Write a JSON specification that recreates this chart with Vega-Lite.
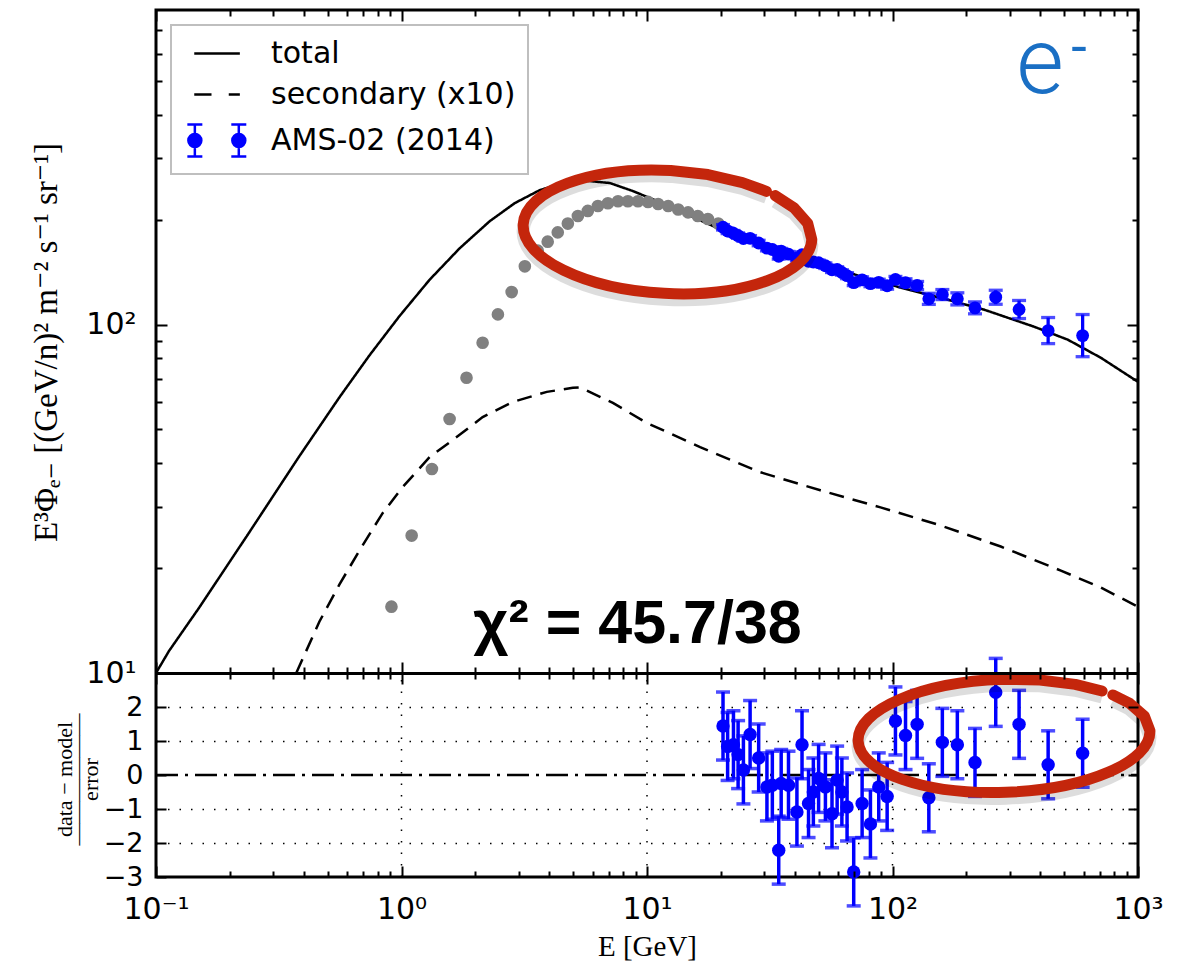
{
  "$schema": "https://vega.github.io/schema/vega-lite/v6.json",
  "autosize": {"type": "none"},
  "width": 982,
  "height": 867,
  "padding": {"left": 156, "top": 10, "right": 52, "bottom": 95},
  "background": "white",
  "config": {
    "view": {"stroke": "black", "strokeWidth": 3},
    "axis": {"labelColor": "black", "labelFont": "DejaVu Sans", "titleColor": "black", "tickColor": "black", "domainColor": "black"}
  },
  "datasets": {
    "curves": [
      {"series": "total", "E": 0.1, "flux": 10},
      {"series": "total", "E": 0.113, "flux": 11.57},
      {"series": "total", "E": 0.1498, "flux": 15.39},
      {"series": "total", "E": 0.2397, "flux": 25.32},
      {"series": "total", "E": 0.3835, "flux": 41.9},
      {"series": "total", "E": 0.5582, "flux": 61.8},
      {"series": "total", "E": 0.7403, "flux": 81.6},
      {"series": "total", "E": 0.9813, "flux": 105.8},
      {"series": "total", "E": 1.3013, "flux": 134.5},
      {"series": "total", "E": 1.725, "flux": 165.6},
      {"series": "total", "E": 2.2874, "flux": 198.1},
      {"series": "total", "E": 2.892, "flux": 223.2},
      {"series": "total", "E": 3.659, "flux": 243.3},
      {"series": "total", "E": 4.415, "flux": 253.2},
      {"series": "total", "E": 5.582, "flux": 259.1},
      {"series": "total", "E": 7.063, "flux": 254.9},
      {"series": "total", "E": 8.767, "flux": 241.7},
      {"series": "total", "E": 12.07, "flux": 220.3},
      {"series": "total", "E": 16.46, "flux": 199.4},
      {"series": "total", "E": 22.44, "flux": 180.5},
      {"series": "total", "E": 30.9, "flux": 165.6},
      {"series": "total", "E": 42.12, "flux": 156.0},
      {"series": "total", "E": 57.44, "flux": 146.0},
      {"series": "total", "E": 78.32, "flux": 135.7},
      {"series": "total", "E": 107.8, "flux": 127.8},
      {"series": "total", "E": 172.5, "flux": 117.3},
      {"series": "total", "E": 235.2, "flux": 110.5},
      {"series": "total", "E": 376.3, "flux": 98.7},
      {"series": "total", "E": 518.0, "flux": 90.5},
      {"series": "total", "E": 706.3, "flux": 80.3},
      {"series": "total", "E": 1000, "flux": 68.5},
      {"series": "secondary (x10)", "E": 0.3727, "flux": 10},
      {"series": "secondary (x10)", "E": 0.4627, "flux": 14.03},
      {"series": "secondary (x10)", "E": 0.5582, "flux": 17.93},
      {"series": "secondary (x10)", "E": 0.674, "flux": 22.47},
      {"series": "secondary (x10)", "E": 0.8364, "flux": 28.72},
      {"series": "secondary (x10)", "E": 1.0094, "flux": 34.13},
      {"series": "secondary (x10)", "E": 1.3013, "flux": 41.65},
      {"series": "secondary (x10)", "E": 1.677, "flux": 47.55},
      {"series": "secondary (x10)", "E": 2.141, "flux": 54.3},
      {"series": "secondary (x10)", "E": 2.838, "flux": 59.99},
      {"series": "secondary (x10)", "E": 3.907, "flux": 64.11},
      {"series": "secondary (x10)", "E": 4.989, "flux": 65.84},
      {"series": "secondary (x10)", "E": 5.327, "flux": 66.06},
      {"series": "secondary (x10)", "E": 7.263, "flux": 59.6},
      {"series": "secondary (x10)", "E": 10, "flux": 52.2},
      {"series": "secondary (x10)", "E": 16.46, "flux": 44.5},
      {"series": "secondary (x10)", "E": 28.92, "flux": 37.71},
      {"series": "secondary (x10)", "E": 50.83, "flux": 33.45},
      {"series": "secondary (x10)", "E": 89.35, "flux": 29.89},
      {"series": "secondary (x10)", "E": 157.0, "flux": 26.52},
      {"series": "secondary (x10)", "E": 276.0, "flux": 23.07},
      {"series": "secondary (x10)", "E": 485.1, "flux": 19.68},
      {"series": "secondary (x10)", "E": 706.3, "flux": 17.58},
      {"series": "secondary (x10)", "E": 1000, "flux": 15.5}
    ],
    "gray": [
      {"E": 0.91, "flux": 15.5}, {"E": 1.1, "flux": 24.8}, {"E": 1.33, "flux": 38.5},
      {"E": 1.57, "flux": 53.6}, {"E": 1.84, "flux": 70.4}, {"E": 2.14, "flux": 88.7},
      {"E": 2.47, "flux": 107}, {"E": 2.81, "flux": 124}, {"E": 3.18, "flux": 147},
      {"E": 3.59, "flux": 163}, {"E": 3.94, "flux": 173}, {"E": 4.33, "flux": 184},
      {"E": 4.76, "flux": 195}, {"E": 5.23, "flux": 205}, {"E": 5.74, "flux": 212},
      {"E": 6.31, "flux": 219}, {"E": 6.93, "flux": 223}, {"E": 7.62, "flux": 226},
      {"E": 8.36, "flux": 226}, {"E": 9.19, "flux": 226}, {"E": 10.1, "flux": 225},
      {"E": 11.1, "flux": 222}, {"E": 12.2, "flux": 219}, {"E": 13.4, "flux": 214},
      {"E": 14.7, "flux": 210}, {"E": 16.1, "flux": 205}, {"E": 17.7, "flux": 201},
      {"E": 19.5, "flux": 195}
    ],
    "ams": [
      {"E": 20.4, "flux": 190.3, "lo": 186.9, "hi": 193.7},
      {"E": 21.3, "flux": 185.8, "lo": 182.5, "hi": 189.1},
      {"E": 22.5, "flux": 183.0, "lo": 179.7, "hi": 186.3},
      {"E": 23.5, "flux": 180.1, "lo": 176.9, "hi": 183.3},
      {"E": 24.7, "flux": 176.6, "lo": 173.4, "hi": 179.8},
      {"E": 26.3, "flux": 176.9, "lo": 173.7, "hi": 180.1},
      {"E": 28.5, "flux": 171.5, "lo": 168.4, "hi": 174.6},
      {"E": 30.8, "flux": 165.8, "lo": 162.8, "hi": 168.8},
      {"E": 32.4, "flux": 164.3, "lo": 161.3, "hi": 167.3},
      {"E": 34.4, "flux": 157.1, "lo": 154.2, "hi": 160.0},
      {"E": 35.2, "flux": 162.5, "lo": 159.6, "hi": 165.4},
      {"E": 37.7, "flux": 159.3, "lo": 156.4, "hi": 162.2},
      {"E": 40.8, "flux": 155.1, "lo": 152.3, "hi": 157.9},
      {"E": 42.8, "flux": 158.7, "lo": 155.8, "hi": 161.6},
      {"E": 45.5, "flux": 152.0, "lo": 149.3, "hi": 154.7},
      {"E": 47.6, "flux": 151.3, "lo": 148.6, "hi": 154.0},
      {"E": 50.0, "flux": 150.5, "lo": 147.8, "hi": 153.2},
      {"E": 53.3, "flux": 147.6, "lo": 144.9, "hi": 150.3},
      {"E": 56.7, "flux": 143.7, "lo": 141.1, "hi": 146.3},
      {"E": 59.5, "flux": 144.0, "lo": 141.4, "hi": 146.6},
      {"E": 62.2, "flux": 141.2, "lo": 138.7, "hi": 143.7},
      {"E": 65.3, "flux": 138.2, "lo": 135.5, "hi": 140.9},
      {"E": 69.5, "flux": 132.0, "lo": 129.4, "hi": 134.6},
      {"E": 75.2, "flux": 134.4, "lo": 131.7, "hi": 137.1},
      {"E": 81.3, "flux": 131.1, "lo": 128.5, "hi": 133.7},
      {"E": 87.9, "flux": 132.2, "lo": 129.4, "hi": 135.0},
      {"E": 95.1, "flux": 129.3, "lo": 126.4, "hi": 132.2},
      {"E": 102.8, "flux": 134.8, "lo": 132.2, "hi": 137.5},
      {"E": 113, "flux": 131.9, "lo": 128.5, "hi": 135.4},
      {"E": 126, "flux": 129.5, "lo": 126.1, "hi": 133.0},
      {"E": 140.6, "flux": 118.6, "lo": 114.3, "hi": 123.0},
      {"E": 159.6, "flux": 122.0, "lo": 118.0, "hi": 126.1},
      {"E": 183.7, "flux": 118.6, "lo": 113.9, "hi": 123.4},
      {"E": 216.8, "flux": 111.7, "lo": 107.4, "hi": 116.2},
      {"E": 263.3, "flux": 119.9, "lo": 114.4, "hi": 125.5},
      {"E": 327.8, "flux": 110.5, "lo": 104.1, "hi": 117.3},
      {"E": 430.5, "flux": 96.1, "lo": 88.2, "hi": 104.8},
      {"E": 594.9, "flux": 93.0, "lo": 80.9, "hi": 106.9}
    ],
    "resid": [
      {"E": 20.4, "r": 1.44, "err": 1}, {"E": 21.3, "r": 0.84, "err": 1},
      {"E": 22.5, "r": 0.89, "err": 1}, {"E": 23.5, "r": 0.6, "err": 1},
      {"E": 24.7, "r": 0.15, "err": 1}, {"E": 26.3, "r": 1.19, "err": 1},
      {"E": 28.5, "r": 0.5, "err": 1}, {"E": 30.8, "r": -0.35, "err": 1},
      {"E": 32.4, "r": -0.3, "err": 1}, {"E": 34.4, "r": -2.21, "err": 1},
      {"E": 35.2, "r": -0.25, "err": 1}, {"E": 37.7, "r": -0.3, "err": 1},
      {"E": 40.8, "r": -1.09, "err": 1}, {"E": 42.8, "r": 0.89, "err": 1},
      {"E": 45.5, "r": -0.84, "err": 1}, {"E": 47.6, "r": -0.5, "err": 1},
      {"E": 50.0, "r": -0.1, "err": 1}, {"E": 53.3, "r": -0.35, "err": 1},
      {"E": 56.7, "r": -1.14, "err": 1}, {"E": 59.5, "r": -0.15, "err": 1},
      {"E": 62.2, "r": -0.5, "err": 1}, {"E": 65.3, "r": -0.94, "err": 1},
      {"E": 69.5, "r": -2.85, "err": 1}, {"E": 75.2, "r": -0.84, "err": 1},
      {"E": 81.3, "r": -1.44, "err": 1}, {"E": 87.9, "r": -0.35, "err": 1},
      {"E": 95.1, "r": -0.63, "err": 1}, {"E": 102.8, "r": 1.59, "err": 1},
      {"E": 113, "r": 1.16, "err": 1}, {"E": 126, "r": 1.49, "err": 1},
      {"E": 140.6, "r": -0.67, "err": 1}, {"E": 159.6, "r": 0.96, "err": 1},
      {"E": 183.7, "r": 0.89, "err": 1}, {"E": 216.8, "r": 0.37, "err": 1},
      {"E": 263.3, "r": 2.43, "err": 1}, {"E": 327.8, "r": 1.49, "err": 1},
      {"E": 430.5, "r": 0.3, "err": 1}, {"E": 594.9, "r": 0.64, "err": 1}
    ],
    "decades": [{"E": 1}, {"E": 10}, {"E": 100}]
  },
  "resolve": {
    "scale": {"y": "independent"},
    "axis": {"x": "independent", "y": "independent"}
  },
  "layer": [
    {
      "data": {"name": "decades"},
      "mark": {"type": "rule", "color": "black", "strokeWidth": 1.5, "strokeDash": [1.5, 10]},
      "encoding": {
        "x": {"field": "E", "type": "quantitative", "scale": {"type": "log", "domain": [0.1, 1000], "nice": false},
          "axis": {"orient": "top", "offset": -663, "values": [0.1, 1, 10, 100, 1000], "tickSize": -11, "tickWidth": 2, "labels": false, "domain": false, "grid": false, "title": null, "zindex": 1}},
        "y": {"datum": -3, "type": "quantitative", "scale": {"type": "linear", "domain": [-3, 3], "range": [867, 663], "nice": false, "zero": false},
          "axis": {"orient": "right", "values": [-2, -1, 0, 1, 2], "tickSize": -10, "tickWidth": 2, "labels": false, "domain": false, "grid": false, "title": null, "zindex": 1}},
        "y2": {"datum": 3}
      }
    },
    {
      "data": {"values": [{}]},
      "mark": {"type": "rule", "color": "black", "strokeWidth": 2.5, "strokeDash": [22, 7, 3, 7]},
      "encoding": {
        "x": {"datum": 0.1, "type": "quantitative", "scale": {"type": "log", "domain": [0.1, 1000], "nice": false},
          "axis": {"orient": "bottom", "values": [0.2, 0.3, 0.4, 0.5, 0.6, 0.7, 0.8, 0.9, 2, 3, 4, 5, 6, 7, 8, 9, 20, 30, 40, 50, 60, 70, 80, 90, 200, 300, 400, 500, 600, 700, 800, 900], "tickSize": -6, "tickWidth": 2, "labels": false, "domain": false, "grid": false, "title": null, "zindex": 1}},
        "x2": {"datum": 1000},
        "y": {"datum": 0, "type": "quantitative", "scale": {"type": "linear", "domain": [-3, 3], "range": [867, 663], "nice": false, "zero": false},
          "axis": {"orient": "left", "values": [-3, -2, -1, 0, 1, 2], "tickSize": -10, "tickWidth": 2, "labels": false, "domain": false, "grid": false, "title": null, "zindex": 1}}
      }
    },
    {
      "data": {"name": "curves"},
      "mark": {"type": "line", "strokeWidth": 2.5},
      "encoding": {
        "x": {"field": "E", "type": "quantitative", "scale": {"type": "log", "domain": [0.1, 1000], "nice": false},
          "axis": {"orient": "bottom", "values": [0.1, 1, 10, 100, 1000], "ticks": false, "domain": false, "grid": false,
            "labelExpr": "datum.value < 0.5 ? '10⁻¹' : datum.value < 5 ? '10⁰' : datum.value < 50 ? '10¹' : datum.value < 500 ? '10²' : '10³'",
            "labelPadding": 17, "labelFontSize": 30, "labelFlush": false, "labelOverlap": false, "labelBound": false,
            "title": "E [GeV]", "titleFont": "Liberation Serif, DejaVu Serif", "titleFontSize": 29, "titleFontWeight": "normal",
            "titleX": 491, "titleY": 69, "titleAlign": "center", "titleBaseline": "middle"}},
        "y": {"field": "flux", "type": "quantitative", "scale": {"type": "log", "domain": [10, 800], "range": [663, 0], "nice": false},
          "axis": {"orient": "left", "values": [10, 100], "ticks": false, "domain": false, "grid": false,
            "labelExpr": "datum.value < 50 ? '10¹' : '10²'", "labelPadding": 20, "labelFontSize": 30, "labelFlush": false, "labelOverlap": false,
            "title": "E³Φₑ₋  [(GeV/n)² m⁻² s⁻¹ sr⁻¹]", "titleFont": "Liberation Serif, DejaVu Serif", "titleFontSize": 33, "titleFontWeight": "normal",
            "titleX": -110, "titleY": 332, "titleAngle": -90, "titleAlign": "center", "titleBaseline": "middle", "titleLimit": 600}},
        "color": {"field": "series", "type": "nominal",
          "scale": {"domain": ["total", "secondary (x10)", "AMS-02 (2014)"], "range": ["#000000", "#000000", "#0000ff"]},
          "legend": {
            "orient": "none", "legendX": 15, "legendY": 15, "title": null, "padding": 12,
            "fillColor": "white", "strokeColor": "#bfbfbf", "cornerRadius": 0,
            "labelFont": "DejaVu Sans", "labelFontSize": 30, "labelColor": "black", "labelOffset": 55, "labelLimit": 500,
            "symbolSize": 900, "rowPadding": 9,
            "encode": {
              "legend": {"update": {"strokeWidth": {"value": 2}}},
              "symbols": {"update": {
                "shape": {"signal": "datum.value === 'total' ? 'M-0.35,0H2.69' : datum.value === 'secondary (x10)' ? 'M-0.35,0H0.8M1.95,0H2.69' : 'M0.123,0C0.123,0.239 -0.071,0.433 -0.31,0.433C-0.549,0.433 -0.743,0.239 -0.743,0C-0.743,-0.239 -0.549,-0.433 -0.31,-0.433C-0.071,-0.433 0.123,-0.239 0.123,0ZM-0.31,-1.07V1.07M-0.81,-1.07H0.19M-0.81,1.07H0.19M3.053,0C3.053,0.239 2.859,0.433 2.62,0.433C2.381,0.433 2.187,0.239 2.187,0C2.187,-0.239 2.381,-0.433 2.62,-0.433C2.859,-0.433 3.053,-0.239 3.053,0ZM2.62,-1.07V1.07M2.12,-1.07H3.12M2.12,1.07H3.12'"},
                "fill": {"signal": "datum.value === 'AMS-02 (2014)' ? '#0000ff' : 'transparent'"},
                "stroke": {"signal": "datum.value === 'AMS-02 (2014)' ? '#0000ff' : '#000000'"},
                "strokeWidth": {"value": 2.5},
                "opacity": {"value": 1}
              }}
            }
          }},
        "strokeDash": {"field": "series", "type": "nominal", "scale": {"domain": ["total", "secondary (x10)"], "range": [[1, 0], [15, 9]]}, "legend": null}
      }
    },
    {
      "data": {"name": "gray"},
      "mark": {"type": "circle", "size": 160, "color": "#808080", "opacity": 1},
      "encoding": {
        "x": {"field": "E", "type": "quantitative", "scale": {"type": "log", "domain": [0.1, 1000], "nice": false},
          "axis": {"orient": "top", "values": [0.1, 1, 10, 100, 1000], "tickSize": -11, "tickWidth": 2, "labels": false, "domain": false, "grid": false, "title": null, "zindex": 1}},
        "y": {"field": "flux", "type": "quantitative", "scale": {"type": "log", "domain": [10, 800], "range": [663, 0], "nice": false},
          "axis": {"orient": "left", "values": [10, 100], "tickSize": -11, "tickWidth": 2, "labels": false, "domain": false, "grid": false, "title": null, "zindex": 1}}
      }
    },
    {
      "data": {"name": "ams"},
      "mark": {"type": "errorbar", "color": "#0000ff", "thickness": 3.3, "ticks": {"size": 14, "thickness": 3.3}},
      "encoding": {
        "x": {"field": "E", "type": "quantitative", "scale": {"type": "log", "domain": [0.1, 1000], "nice": false}, "axis": null},
        "y": {"field": "lo", "type": "quantitative", "scale": {"type": "log", "domain": [10, 800], "range": [663, 0], "nice": false}, "axis": null},
        "y2": {"field": "hi"}
      }
    },
    {
      "data": {"name": "ams"},
      "mark": {"type": "circle", "size": 165, "color": "#0000ff", "opacity": 1},
      "encoding": {
        "x": {"field": "E", "type": "quantitative", "scale": {"type": "log", "domain": [0.1, 1000], "nice": false},
          "axis": {"orient": "top", "values": [0.2, 0.3, 0.4, 0.5, 0.6, 0.7, 0.8, 0.9, 2, 3, 4, 5, 6, 7, 8, 9, 20, 30, 40, 50, 60, 70, 80, 90, 200, 300, 400, 500, 600, 700, 800, 900], "tickSize": -6, "tickWidth": 2, "labels": false, "domain": false, "grid": false, "title": null, "zindex": 1}},
        "y": {"field": "flux", "type": "quantitative", "scale": {"type": "log", "domain": [10, 800], "range": [663, 0], "nice": false},
          "axis": {"orient": "left", "values": [20, 30, 40, 50, 60, 70, 80, 90, 200, 300, 400, 500, 600, 700], "tickSize": -6, "tickWidth": 2, "labels": false, "domain": false, "grid": false, "title": null, "zindex": 1}}
      }
    },
    {
      "data": {"name": "resid"},
      "mark": {"type": "errorbar", "color": "#0000ff", "thickness": 3.5, "ticks": {"size": 14, "thickness": 3.5}},
      "encoding": {
        "x": {"field": "E", "type": "quantitative", "scale": {"type": "log", "domain": [0.1, 1000], "nice": false}, "axis": null},
        "y": {"field": "r", "type": "quantitative", "scale": {"type": "linear", "domain": [-3, 3], "range": [867, 663], "nice": false, "zero": false}, "axis": null},
        "yError": {"field": "err"}
      }
    },
    {
      "data": {"name": "resid"},
      "mark": {"type": "circle", "size": 180, "color": "#0000ff", "opacity": 1},
      "encoding": {
        "x": {"field": "E", "type": "quantitative", "scale": {"type": "log", "domain": [0.1, 1000], "nice": false},
          "axis": {"orient": "bottom", "values": [0.1, 1, 10, 100, 1000], "tickSize": -11, "tickWidth": 2, "labels": false, "domain": false, "grid": false, "title": null, "zindex": 1}},
        "y": {"field": "r", "type": "quantitative", "scale": {"type": "linear", "domain": [-3, 3], "range": [867, 663], "nice": false, "zero": false},
          "axis": {"orient": "left", "values": [-3, -2, -1, 0, 1, 2], "ticks": false, "domain": false, "grid": false,
            "labelExpr": "datum.value < 0 ? '−' + abs(datum.value) : '' + datum.value", "labelPadding": 13, "labelFontSize": 27, "labelFlush": false, "labelOverlap": false,
            "title": ["data − model", "——————", "error"], "titleFont": "Liberation Serif, DejaVu Serif", "titleFontSize": 22, "titleFontWeight": "normal", "titleLineHeight": 13,
            "titleX": -92, "titleY": 769, "titleAngle": -90, "titleAlign": "center", "titleBaseline": "middle"}}
      }
    },
    {
      "data": {"values": [{}]},
      "mark": {"type": "text", "font": "Liberation Sans, Arial", "fontWeight": "bold", "fontSize": 61, "color": "black", "align": "center", "baseline": "middle"},
      "encoding": {
        "x": {"datum": 9.15, "type": "quantitative", "scale": {"type": "log", "domain": [0.1, 1000], "nice": false}, "axis": null},
        "y": {"datum": 13.75, "type": "quantitative", "scale": {"type": "log", "domain": [10, 800], "range": [663, 0], "nice": false}, "axis": null},
        "text": {"value": "χ² = 45.7/38"}
      }
    },
    {
      "data": {"values": [{}]},
      "mark": {"type": "text", "font": "Roboto, Liberation Sans", "fontWeight": 300, "fontSize": 92, "color": "#1a6fc4", "align": "center", "baseline": "alphabetic"},
      "encoding": {
        "x": {"datum": 398.9, "type": "quantitative", "scale": {"type": "log", "domain": [0.1, 1000], "nice": false}, "axis": null},
        "y": {"datum": 461, "type": "quantitative", "scale": {"type": "log", "domain": [10, 800], "range": [663, 0], "nice": false}, "axis": null},
        "text": {"value": "e"}
      }
    },
    {
      "data": {"values": [{}]},
      "mark": {"type": "text", "font": "Roboto, Liberation Sans", "fontWeight": 400, "fontSize": 56, "color": "#1a6fc4", "align": "center", "baseline": "middle"},
      "encoding": {
        "x": {"datum": 575, "type": "quantitative", "scale": {"type": "log", "domain": [0.1, 1000], "nice": false}, "axis": null},
        "y": {"datum": 620, "type": "quantitative", "scale": {"type": "log", "domain": [10, 800], "range": [663, 0], "nice": false}, "axis": null},
        "text": {"value": "-"}
      }
    },
    {
      "data": {"values": [{}]},
      "mark": {"type": "point", "filled": false, "color": "#000000", "opacity": 0.13, "strokeWidth": 13, "size": 83521, "angle": 3,
        "shape": "M0.7314,-0.2903L0.866,-0.2128L0.9659,-0.1102L1,0C1,0.2351 0.5523,0.4256 0,0.4256C-0.5523,0.4256 -1,0.2351 -1,0C-1,-0.2351 -0.5523,-0.4256 0,-0.4256L0.2588,-0.4111L0.5,-0.3686L0.6691,-0.3163"},
      "encoding": {
        "x": {"datum": 12.12, "type": "quantitative", "scale": {"type": "log", "domain": [0.1, 1000], "nice": false},
          "axis": {"orient": "bottom", "offset": -204, "values": [0.2, 0.3, 0.4, 0.5, 0.6, 0.7, 0.8, 0.9, 2, 3, 4, 5, 6, 7, 8, 9, 20, 30, 40, 50, 60, 70, 80, 90, 200, 300, 400, 500, 600, 700, 800, 900], "tickSize": -6, "tickWidth": 2, "labels": false, "domain": false, "grid": false, "title": null, "zindex": 1}},
        "y": {"datum": 177.5, "type": "quantitative", "scale": {"type": "log", "domain": [10, 800], "range": [663, 0], "nice": false},
          "axis": {"orient": "right", "values": [20, 30, 40, 50, 60, 70, 80, 90, 200, 300, 400, 500, 600, 700], "tickSize": -6, "tickWidth": 2, "labels": false, "domain": false, "grid": false, "title": null, "zindex": 1}}
      }
    },
    {
      "data": {"values": [{}]},
      "mark": {"type": "point", "filled": false, "color": "#c4260c", "opacity": 1, "strokeWidth": 11, "strokeCap": "round", "strokeJoin": "round", "size": 83521, "angle": 3,
        "shape": "M0.7314,-0.2903L0.866,-0.2128L0.9659,-0.1102L1,0C1,0.2351 0.5523,0.4256 0,0.4256C-0.5523,0.4256 -1,0.2351 -1,0C-1,-0.2351 -0.5523,-0.4256 0,-0.4256L0.2588,-0.4111L0.5,-0.3686L0.6691,-0.3163"},
      "encoding": {
        "x": {"datum": 12.12, "type": "quantitative", "scale": {"type": "log", "domain": [0.1, 1000], "nice": false},
          "axis": {"orient": "bottom", "offset": -204, "values": [0.1, 1, 10, 100, 1000], "tickSize": -11, "tickWidth": 2, "labels": false, "domain": true, "domainWidth": 3, "domainColor": "black", "grid": false, "title": null, "zindex": 1}},
        "y": {"datum": 184.5, "type": "quantitative", "scale": {"type": "log", "domain": [10, 800], "range": [663, 0], "nice": false},
          "axis": {"orient": "right", "values": [10, 100], "tickSize": -11, "tickWidth": 2, "labels": false, "domain": false, "grid": false, "title": null, "zindex": 1}}
      }
    },
    {
      "data": {"values": [{}]},
      "mark": {"type": "point", "filled": false, "color": "#000000", "opacity": 0.13, "strokeWidth": 13, "size": 85264, "angle": -2,
        "shape": "M0.7547,-0.2539L0.866,-0.1935L0.9659,-0.1002L1,0C1,0.2137 0.5523,0.387 0,0.387C-0.5523,0.387 -1,0.2137 -1,0C-1,-0.2137 -0.5523,-0.387 0,-0.387L0.2588,-0.3738L0.5,-0.3352L0.682,-0.283"},
      "encoding": {
        "x": {"datum": 284.6, "type": "quantitative", "scale": {"type": "log", "domain": [0.1, 1000], "nice": false}, "axis": null},
        "y": {"datum": 0.98, "type": "quantitative", "scale": {"type": "linear", "domain": [-3, 3], "range": [867, 663], "nice": false, "zero": false}, "axis": null}
      }
    },
    {
      "data": {"values": [{}]},
      "mark": {"type": "point", "filled": false, "color": "#c4260c", "opacity": 1, "strokeWidth": 11, "strokeCap": "round", "strokeJoin": "round", "size": 85264, "angle": -2,
        "shape": "M0.7547,-0.2539L0.866,-0.1935L0.9659,-0.1002L1,0C1,0.2137 0.5523,0.387 0,0.387C-0.5523,0.387 -1,0.2137 -1,0C-1,-0.2137 -0.5523,-0.387 0,-0.387L0.2588,-0.3738L0.5,-0.3352L0.682,-0.283"},
      "encoding": {
        "x": {"datum": 284.6, "type": "quantitative", "scale": {"type": "log", "domain": [0.1, 1000], "nice": false},
          "axis": {"orient": "top", "offset": -663, "values": [0.2, 0.3, 0.4, 0.5, 0.6, 0.7, 0.8, 0.9, 2, 3, 4, 5, 6, 7, 8, 9, 20, 30, 40, 50, 60, 70, 80, 90, 200, 300, 400, 500, 600, 700, 800, 900], "tickSize": -6, "tickWidth": 2, "labels": false, "domain": false, "grid": false, "title": null, "zindex": 1}},
        "y": {"datum": 1.153, "type": "quantitative", "scale": {"type": "linear", "domain": [-3, 3], "range": [867, 663], "nice": false, "zero": false},
          "axis": {"orient": "left", "values": [-2, -1, 1, 2], "ticks": false, "labels": false, "domain": false, "grid": true, "gridColor": "black", "gridWidth": 1.5, "gridDash": [1.5, 10], "title": null, "zindex": 0}}
      }
    }
  ]
}
